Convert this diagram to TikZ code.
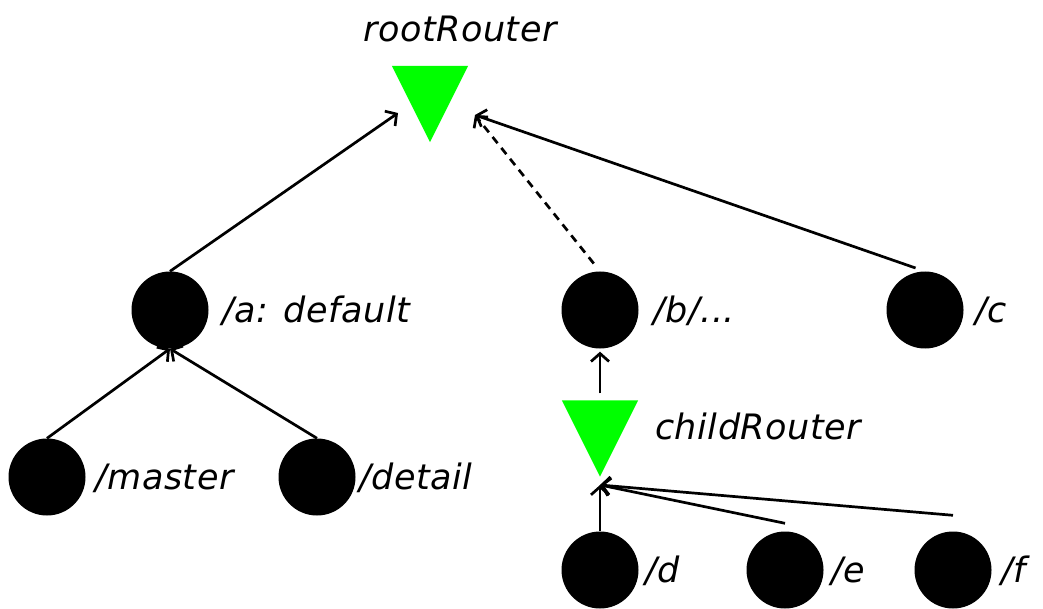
\documentclass[tikz,border=0pt]{standalone}
\usepackage{fontspec}
\setmainfont{DejaVu Sans}
\usetikzlibrary{arrows.meta}
\definecolor{routergreen}{RGB}{0,255,0}
\tikzset{
  every picture/.style={x=1pt,y=-1pt},
  route/.style={circle,fill=black,minimum size=77pt,inner sep=0pt},
  lbl/.style={anchor=base west,inner sep=0pt,font=\fontsize{35}{40}\selectfont\itshape\addfontfeature{LetterSpace=1.5}},
  toplbl/.style={anchor=base,inner sep=0pt,font=\fontsize{35}{40}\selectfont\itshape\addfontfeature{LetterSpace=1.5}},
  routerbox/.style={inner sep=0pt,minimum width=76pt,minimum height=76pt},
  link/.style={line width=2.7pt,-{Straight Barb[length=8pt,width=18pt,line width=2.7pt]}},
  dlink/.style={link,dash pattern=on 8pt off 6pt},
}
\begin{document}
\begin{tikzpicture}
\useasboundingbox (0,0) rectangle (1043,609);
% routers
\node[routerbox] (root) at (430,104) {};
\fill[routergreen] (root.north west) -- (root.north east) -- (root.south) -- cycle;
\node[toplbl] (rootlbl) at (460,42) {rootRouter};
\node[routerbox] (child) at (600,438.5) {};
\fill[routergreen] (child.north west) -- (child.north east) -- (child.south) -- cycle;
\node[lbl] (childlbl) at (655,439) {childRouter};
% routes
\node[route] (a) at (170,310) {};
\node[lbl] at (222,322) {/a: default};
\node[route] (master) at (47,477) {};
\node[lbl] at (95,489) {/master};
\node[route] (detail) at (317,477) {};
\node[lbl] at (359,489) {/detail};
\node[route] (b) at (600,310) {};
\node[lbl] at (653,322) {/b/...};
\node[route] (c) at (925,310) {};
\node[lbl] at (975,322) {/c};
\node[route] (d) at (600,570) {};
\node[lbl] at (645,582) {/d};
\node[route] (e) at (785,570) {};
\node[lbl] at (831,582) {/e};
\node[route] (f) at (953,570) {};
\node[lbl] at (1001,582) {/f};
% arrow targets
\coordinate (rootL) at (398,113);
\coordinate (rootR) at (475,115);
\coordinate (childIn) at (600,485);
% connectors
\draw[link] (a.north) -- (rootL);
\draw[dlink,shorten <=10pt] (b.north) -- (rootR);
\draw[link,shorten <=10pt] (c.north) -- (rootR);
\draw[link] (master.north) -- (a.south);
\draw[link] (detail.north) -- (a.south);
\draw[link,shorten <=7pt,shorten >=3pt] (child.north) -- (b.south);
\draw[link] (d.north) -- (childIn);
\draw[link] ([yshift=8pt]e.north) -- (childIn);
\draw[link] ([yshift=16pt]f.north) -- (childIn);
\end{tikzpicture}
\end{document}
